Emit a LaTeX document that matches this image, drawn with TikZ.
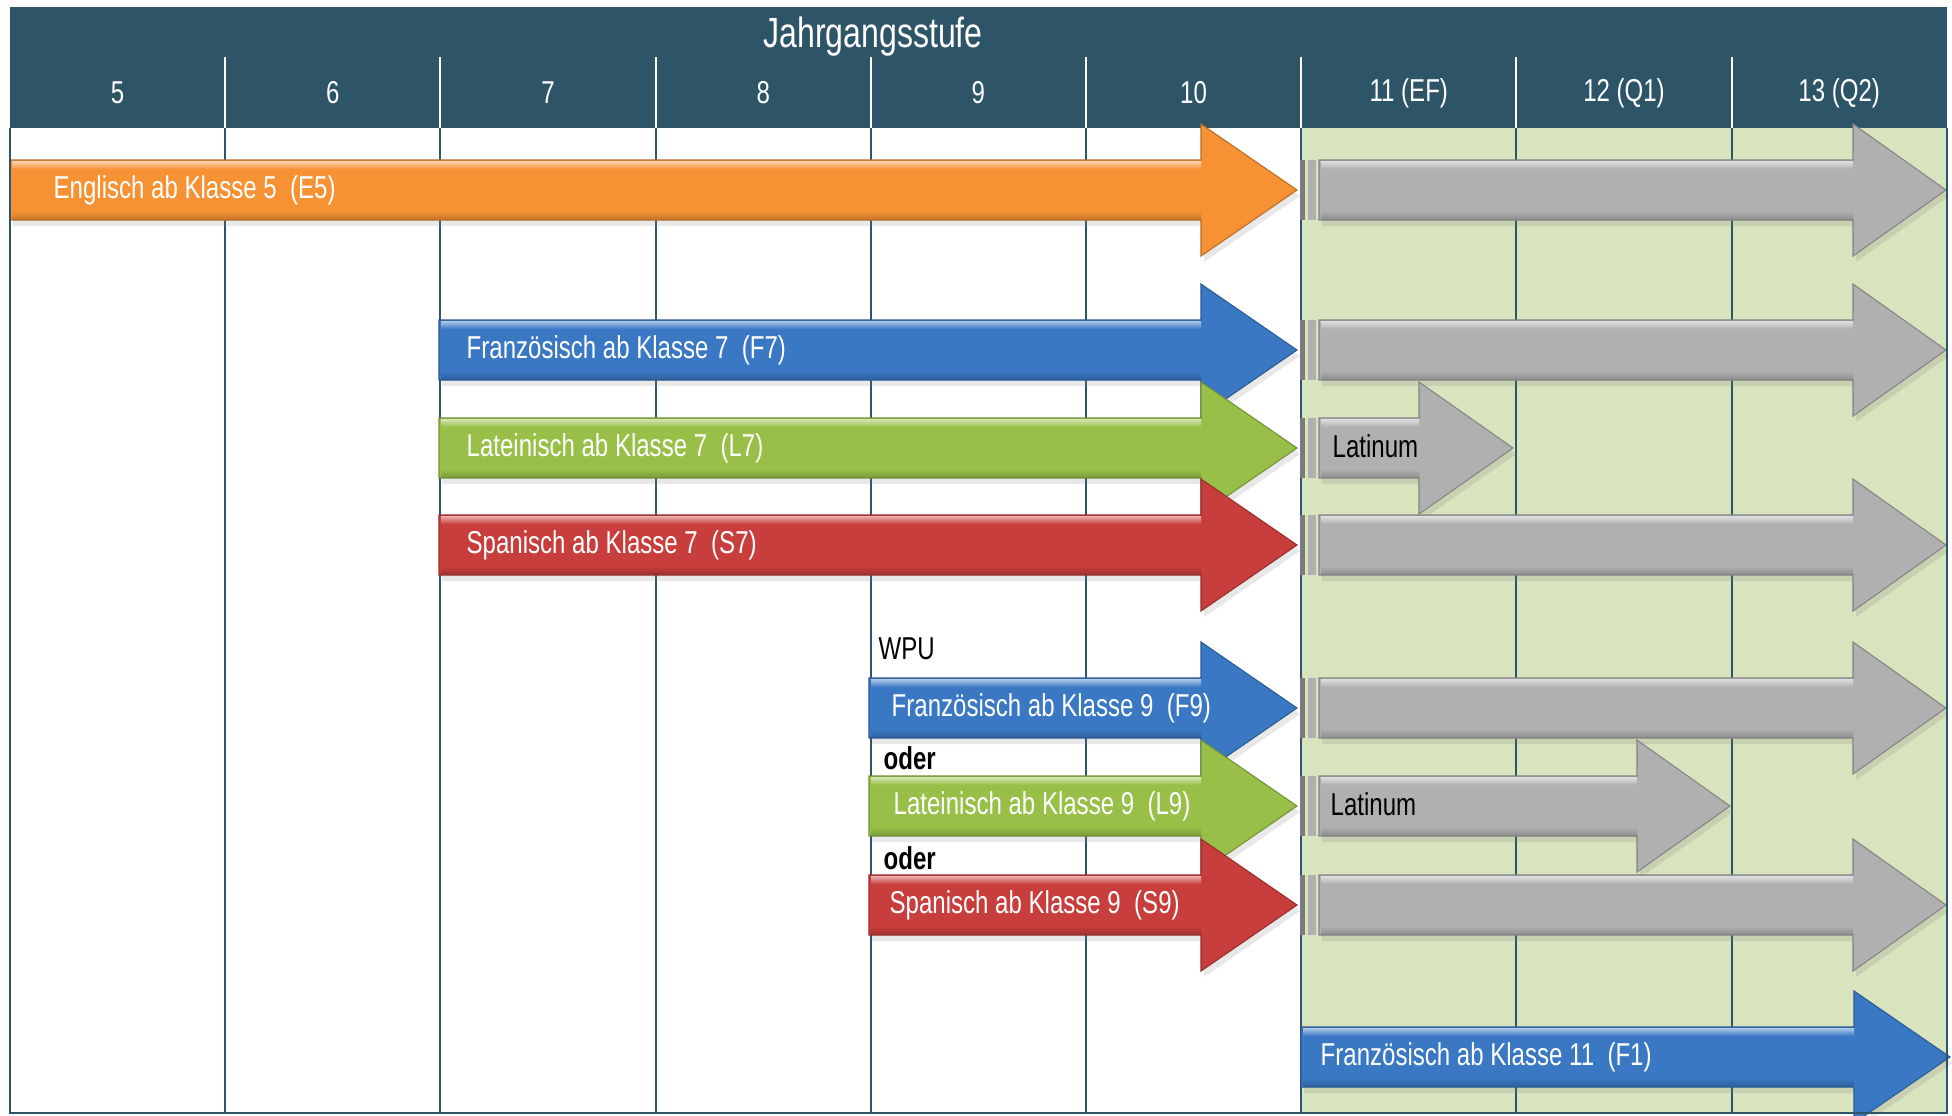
\documentclass[tikz,border=0pt]{standalone}
\usepackage{fontspec}
\setmainfont{Liberation Sans}[FakeStretch=0.76]
\usetikzlibrary{shadows}
\definecolor{kopf}{RGB}{46,84,104}
\definecolor{oberstufe}{RGB}{215,228,189}
\definecolor{orangeE}{RGB}{246,146,52}
\definecolor{blauF}{RGB}{58,120,196}
\definecolor{gruenL}{RGB}{152,192,72}
\definecolor{rotS}{RGB}{200,62,60}
\definecolor{grauO}{RGB}{176,176,176}
\tikzset{every node/.style={inner sep=0pt},
  kopftext/.style={white, font=\fontsize{9}{10}\selectfont},
  titeltext/.style={white, font=\fontsize{12}{13}\selectfont},
  pfeiltext/.style={white, anchor=west, font=\fontsize{9}{10}\selectfont},
  randtext/.style={black, anchor=west, font=\fontsize{9}{10}\selectfont},
  gitter/.style={kopf, line width=0.6pt},
  trenner/.style={white, line width=0.6pt}}
% farbe, start, kopfbasis, spitze, mitte
\newcommand{\sprachpfeil}[5]{%
  \fill[#1, draw=#1!75!black, line width=0.3pt,
        drop shadow={opacity=0.18, shadow xshift=0.3mm, shadow yshift=-0.6mm}]
    (#2,#5-30) -- (#3,#5-30) -- (#3,#5-66) -- (#4,#5) -- (#3,#5+66) -- (#3,#5+30) -- (#2,#5+30) -- cycle;
  \shade[top color=white, bottom color=#1, opacity=0.6] (#2+2,#5-29) rectangle (#3,#5-21);
  \shade[top color=#1, bottom color=#1!70!black, opacity=0.6] (#2+2,#5+21) rectangle (#3,#5+29);
}
\newcommand{\grauanfang}[1]{%
  \fill[grauO!70!black] (1300,#1-30) rectangle (1305,#1+30);
  \fill[grauO] (1308,#1-30) rectangle (1316,#1+30);
}

\begin{document}
\begin{tikzpicture}[x=0.1mm, y=-0.1mm]
  \useasboundingbox[fill=white] (0,0) rectangle (1952,1115);
  \fill[oberstufe] (1301,128) rectangle (1947,1113);
  \fill[kopf] (10,7) rectangle (1947,128);

  % gitter
  \draw[gitter] ( 225.2,128) -- ( 225.2,1113);
  \draw[gitter] ( 440.4,128) -- ( 440.4,1113);
  \draw[gitter] ( 655.6,128) -- ( 655.6,1113);
  \draw[gitter] ( 870.8,128) -- ( 870.8,1113);
  \draw[gitter] (1086.0,128) -- (1086.0,1113);
  \draw[gitter] (1301.2,128) -- (1301.2,1113);
  \draw[gitter] (1516.4,128) -- (1516.4,1113);
  \draw[gitter] (1731.6,128) -- (1731.6,1113);
  \draw[trenner] ( 225.2,57) -- ( 225.2,128);
  \draw[trenner] ( 440.4,57) -- ( 440.4,128);
  \draw[trenner] ( 655.6,57) -- ( 655.6,128);
  \draw[trenner] ( 870.8,57) -- ( 870.8,128);
  \draw[trenner] (1086.0,57) -- (1086.0,128);
  \draw[trenner] (1301.2,57) -- (1301.2,128);
  \draw[trenner] (1516.4,57) -- (1516.4,128);
  \draw[trenner] (1731.6,57) -- (1731.6,128);

  % kopfzeile
  \node[titeltext] (titel) at (873,37) {Jahrgangsstufe};
  \node[kopftext] (j5)  at ( 117.6,93) {5};
  \node[kopftext] (j6)  at ( 332.8,93) {6};
  \node[kopftext] (j7)  at ( 548.0,93) {7};
  \node[kopftext] (j8)  at ( 763.2,93) {8};
  \node[kopftext] (j9)  at ( 978.4,93) {9};
  \node[kopftext] (j10) at (1193.6,93) {10};
  \node[kopftext] (j11) at (1408.8,93) {11 (EF)};
  \node[kopftext] (j12) at (1624.0,93) {12 (Q1)};
  \node[kopftext] (j13) at (1839.2,93) {13 (Q2)};

  % englisch
  \sprachpfeil{orangeE}{10}{1201}{1297}{190}
  \grauanfang{190}
  \sprachpfeil{grauO}{1319}{1853}{1946}{190}
  \node[pfeiltext] (e5) at (53,190) {Englisch ab Klasse 5~ (E5)};

  % ab klasse 7
  \sprachpfeil{blauF}{439}{1201}{1297}{350}
  \grauanfang{350}
  \sprachpfeil{grauO}{1319}{1853}{1946}{350}
  \node[pfeiltext] (f7) at (466,350) {Französisch ab Klasse 7~ (F7)};

  \sprachpfeil{gruenL}{439}{1201}{1297}{448}
  \grauanfang{448}
  \sprachpfeil{grauO}{1319}{1419}{1513}{448}
  \node[pfeiltext] (l7) at (466,448) {Lateinisch ab Klasse 7~ (L7)};
  \node[randtext] (lat7) at (1332,446) {Latinum};

  \sprachpfeil{rotS}{439}{1201}{1297}{545}
  \grauanfang{545}
  \sprachpfeil{grauO}{1319}{1853}{1946}{545}
  \node[pfeiltext] (s7) at (466,545) {Spanisch ab Klasse 7~ (S7)};

  % wpu ab klasse 9
  \node[randtext] (wpu) at (878,649) {WPU};
  \sprachpfeil{blauF}{869}{1201}{1297}{708}
  \grauanfang{708}
  \sprachpfeil{grauO}{1319}{1853}{1946}{708}
  \node[pfeiltext] (f9) at (891,708) {Französisch ab Klasse 9~ (F9)};

  \node[randtext, font=\bfseries\fontsize{9}{10}\selectfont] (oder1) at (883,758) {oder};
  \sprachpfeil{gruenL}{869}{1201}{1297}{806}
  \grauanfang{806}
  \sprachpfeil{grauO}{1319}{1637}{1730}{806}
  \node[pfeiltext] (l9) at (893,806) {Lateinisch ab Klasse 9~ (L9)};
  \node[randtext] (lat9) at (1330,804) {Latinum};

  \node[randtext, font=\bfseries\fontsize{9}{10}\selectfont] (oder2) at (883,858) {oder};
  \sprachpfeil{rotS}{869}{1201}{1297}{905}
  \grauanfang{905}
  \sprachpfeil{grauO}{1319}{1853}{1946}{905}
  \node[pfeiltext] (s9) at (889,905) {Spanisch ab Klasse 9~ (S9)};

  % ab klasse 11
  \sprachpfeil{blauF}{1301}{1854}{1950}{1057}
  \node[pfeiltext] (f1) at (1320,1057) {Französisch ab Klasse 11~ (F1)};

  % rahmen
  \draw[kopf, line width=0.7pt] (10,128) -- (10,1113) -- (1947,1113) -- (1947,128);
\end{tikzpicture}
\end{document}
